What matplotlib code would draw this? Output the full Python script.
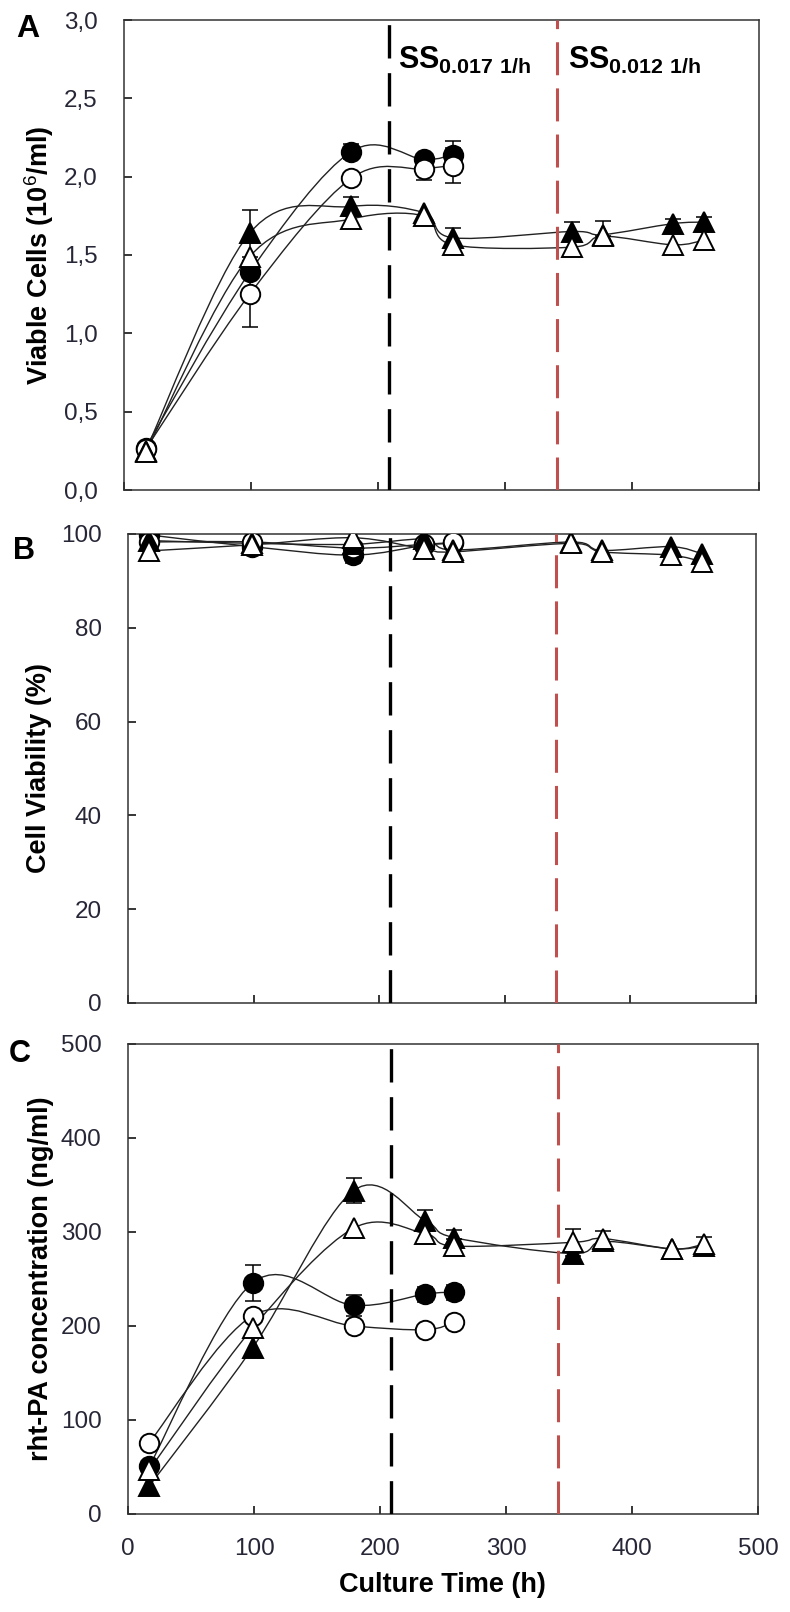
import numpy as np
import matplotlib
matplotlib.use("Agg")
import matplotlib.pyplot as plt
from matplotlib.path import Path
from matplotlib.patches import PathPatch

plt.rcParams['font.family'] = ['Liberation Sans', 'DejaVu Sans']
plt.rcParams['mathtext.fontset'] = 'custom'
plt.rcParams['mathtext.rm'] = 'Liberation Sans'
plt.rcParams['mathtext.bf'] = 'Liberation Sans:bold'

# culture time points (h)
t_short = [17, 99, 179, 236, 259]
t_long = [17, 99, 179, 236, 259, 353, 377, 432, 457]

# A: viable cells (10^6/ml)  -- err given as (lower, upper)
vc_fc = [0.27, 1.39, 2.16, 2.11, 2.14]
vc_fc_err = [0, 0, 0.05, 0.03, 0.09]
vc_oc = [0.26, 1.25, 1.99, 2.05, 2.07]
vc_oc_err = [0, 0.21, 0, 0.07, 0.11]
vc_ft = [0.25, 1.64, 1.81, 1.77, 1.61, 1.65, 1.63, 1.70, 1.71]
vc_ft_err = [0, 0.15, 0.06, 0, 0.06, 0.06, 0, 0.03, 0.03]
vc_ot = [0.24, 1.49, 1.73, 1.75, 1.565, 1.55, 1.62, 1.565, 1.595]
vc_ot_err_lo = [0, 0, 0, 0, 0, 0, 0, 0, 0]
vc_ot_err_up = [0, 0, 0, 0, 0, 0, 0.10, 0, 0]

# B: cell viability (%)
cv_fc = [99.8, 97.3, 95.5, 97.6, 98.0]
cv_fc_err = [0, 0, 1.7, 0, 0]
cv_oc = [98.3, 98.3, 97.0, 97.8, 98.2]
cv_oc_err = [0, 0, 0, 0, 0]
cv_ft = [98.6, 98.0, 97.8, 98.9, 96.6, 98.3, 96.5, 97.3, 95.8]
cv_ft_err = [0, 0, 0, 0, 0, 0, 0, 0, 0]
cv_ot = [96.4, 97.7, 99.2, 96.8, 96.2, 98.0, 96.2, 95.5, 94.1]
cv_ot_err = [0, 0, 0, 0, 0, 0, 0, 0, 0]

# C: rht-PA concentration (ng/ml)
pa_fc = [51, 246, 222, 234, 236]
pa_fc_err = [0, 19, 11, 8, 8]
pa_oc = [76, 211, 200, 196, 204]
pa_oc_err = [0, 0, 0, 0, 0]
pa_ft = [30, 177, 344, 312, 294, 277, 290, 282, 285]
pa_ft_err = [0, 0, 13, 11, 8, 0, 0, 0, 0]
pa_ot = [47, 198, 304, 298, 285, 289, 293, 282, 287]
pa_ot_err = [0, 0, 0, 0, 8, 14, 8, 0, 8]

ss1_t = 208.5
ss2_t = 341

fig = plt.figure(figsize=(7.9, 16.12), dpi=100)
axA = fig.add_axes([124/790, 1-490/1612, 635/790, 470/1612])
axB = fig.add_axes([128/790, 1-1003/1612, 628/790, 469/1612])
axC = fig.add_axes([128/790, 1-1514/1612, 630/790, 470/1612])

linecol = '#222222'
tickcol = '#262636'


def smooth(ax, xs, ys):
    # smoothed connecting line (bezier through the measured points)
    pts = np.column_stack([xs, ys]).astype(float)
    n = len(pts)
    verts = [pts[0]]
    codes = [Path.MOVETO]
    for i in range(n - 1):
        p0 = pts[i - 1] if i > 0 else pts[i]
        p1 = pts[i]
        p2 = pts[i + 1]
        p3 = pts[i + 2] if i + 2 < n else pts[i + 1]
        verts += [p1 + (p2 - p0) / 6, p2 - (p3 - p1) / 6, p2]
        codes += [Path.CURVE4] * 3
    ax.add_patch(PathPatch(Path(verts, codes), fill=False, ec=linecol,
                           lw=1.0, zorder=2))


def series(ax, xs, ys, err_lo, err_up, marker, face, ms, z):
    smooth(ax, xs, ys)
    xs = np.array(xs, float)
    ys = np.array(ys, float)
    lo = np.array(err_lo, float)
    up = np.array(err_up, float)
    m = (lo > 0) | (up > 0)
    if m.any():
        ax.errorbar(xs[m], ys[m], yerr=[lo[m], up[m]], fmt='none',
                    ecolor='black', elinewidth=1.1, capsize=5.5,
                    capthick=1.1, zorder=z - 0.5)
    ax.plot(xs, ys, ls='none', marker=marker, ms=ms, mfc=face, mec='black',
            mew=1.4, zorder=z)


def draw(ax, fc, fce, oc, oce, ft, fte, ot, ote_lo, ote_up):
    series(ax, t_short, fc, fce, fce, 'o', 'black', 14, 5)
    series(ax, t_short, oc, oce, oce, 'o', 'white', 14, 6)
    series(ax, t_long, ft, fte, fte, '^', 'black', 15, 7)
    series(ax, t_long, ot, ote_lo, ote_up, '^', 'white', 15, 8)
    ax.axvline(ss1_t, color='black', lw=2.4, dashes=(10, 4.4), zorder=3)
    ax.axvline(ss2_t, color='#c0504d', lw=2.2, dashes=(10.8, 4.3), zorder=3)
    ax.set_xlim(0, 500)
    ax.set_xticks(range(0, 501, 100))
    ax.tick_params(direction='in', length=6, width=1.1, labelsize=17.5,
                   labelcolor=tickcol, top=False, right=False)
    ax.tick_params(axis='y', pad=19)
    ax.tick_params(axis='x', pad=17)
    for s in ax.spines.values():
        s.set_linewidth(1.1)
        s.set_color('#333333')


draw(axA, vc_fc, vc_fc_err, vc_oc, vc_oc_err, vc_ft, vc_ft_err, vc_ot,
     vc_ot_err_lo, vc_ot_err_up)
draw(axB, cv_fc, cv_fc_err, cv_oc, cv_oc_err, cv_ft, cv_ft_err, cv_ot,
     cv_ot_err, cv_ot_err)
draw(axC, pa_fc, pa_fc_err, pa_oc, pa_oc_err, pa_ft, pa_ft_err, pa_ot,
     pa_ot_err, pa_ot_err)

axA.set_ylim(0, 3)
yA = np.arange(0, 3.01, 0.5)
axA.set_yticks(yA)
axA.set_yticklabels([('%.1f' % v).replace('.', ',') for v in yA])
axA.set_xticklabels([])

axB.set_ylim(0, 100)
axB.set_yticks(range(0, 101, 20))
axB.set_xticklabels([])

axC.set_ylim(0, 500)
axC.set_yticks(range(0, 501, 100))

axA.text(215.5, 2.693, r'$\mathbf{SS_{0.017\ 1/h}}$', fontsize=22,
         ha='left', va='baseline', color='black')
axA.text(349.5, 2.693, r'$\mathbf{SS_{0.012\ 1/h}}$', fontsize=22,
         ha='left', va='baseline', color='black')

lab = dict(fontsize=19.5, fontweight='bold', rotation=90, ha='center',
           va='center', color='black')
fig.text(0.049, 1-255/1612, r'Viable Cells (10$^{6}$/ml)', **lab)
fig.text(0.049, 1-768/1612, 'Cell Viability (%)', **lab)
fig.text(0.052, 1-1279/1612, 'rht-PA concentration (ng/ml)', **lab)
fig.text(0.560, 1-1585/1612, 'Culture Time (h)', fontsize=19.5,
         fontweight='bold', ha='center', va='center')

fig.text(28/790, 1-29/1612, 'A', fontsize=23, fontweight='bold',
         ha='center', va='center')
fig.text(24/790, 1-551/1612, 'B', fontsize=22, fontweight='bold',
         ha='center', va='center')
fig.text(20/790, 1-1054/1612, 'C', fontsize=22, fontweight='bold',
         ha='center', va='center')

fig.savefig('out.png', dpi=100)
